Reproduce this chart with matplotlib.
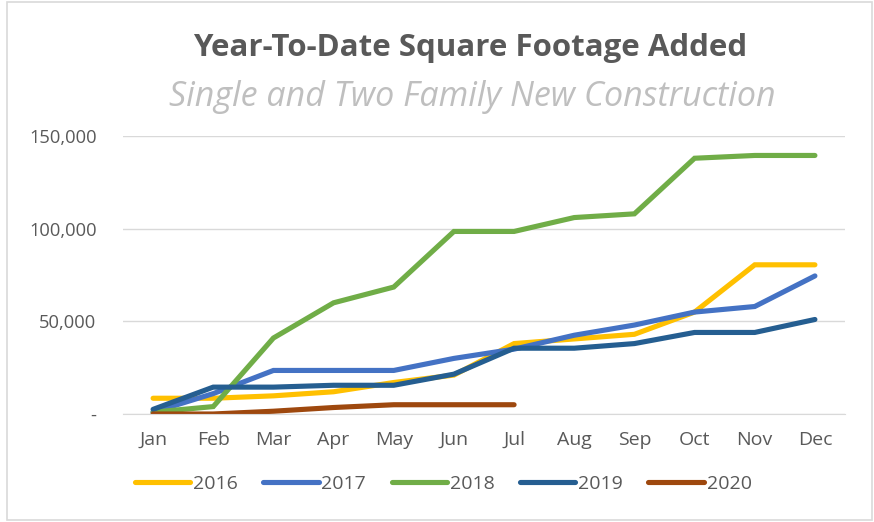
import matplotlib.pyplot as plt
from matplotlib.patches import Rectangle

months = ['Jan', 'Feb', 'Mar', 'Apr', 'May', 'Jun', 'Jul', 'Aug', 'Sep', 'Oct', 'Nov', 'Dec']
y2016 = [8500, 8500, 9800, 12000, 17000, 21000, 38000, 40500, 43000, 55000, 80500, 80500]
y2017 = [1000, 11000, 23500, 23500, 23500, 30000, 35000, 42500, 48000, 55000, 58000, 74500]
y2018 = [1000, 4000, 41000, 60000, 68500, 98500, 98500, 106000, 108000, 138000, 139500, 139500]
y2019 = [2500, 14500, 14500, 15500, 15500, 21500, 35500, 35500, 38000, 44000, 44000, 51000]
y2020 = [0, 0, 1500, 3500, 5000, 5000, 5000]

series = [('2016', y2016, '#FFC000'), ('2017', y2017, '#4472C4'),
          ('2018', y2018, '#70AD47'), ('2019', y2019, '#255E91'),
          ('2020', y2020, '#9E480E')]

plt.rcParams['font.family'] = ['Open Sans', 'DejaVu Sans']

fig = plt.figure(figsize=(8.74, 5.22), dpi=100)
fig.patches.append(Rectangle((0.008, 0.004), 0.99, 0.992, transform=fig.transFigure,
                             fill=False, edgecolor='#D9D9D9', linewidth=1.2))
ax = fig.add_axes([123 / 874, 1 - 414 / 522, (845 - 123) / 874, (414 - 136) / 522])

for name, vals, col in series:
    ax.plot(range(len(vals)), vals, color=col, linewidth=3.7, label=name,
            solid_capstyle='round', solid_joinstyle='miter')

ax.set_xlim(-0.5, 11.5)
ax.set_ylim(0, 150000)
ax.set_yticks([0, 50000, 100000, 150000])
ax.set_yticklabels(['-', '50,000', '100,000', '150,000'])
ax.set_xticks(range(12))
ax.set_xticklabels(months)
ax.grid(axis='y', color='#D9D9D9', linewidth=1)
ax.set_axisbelow(True)
for s in ['top', 'right', 'left']:
    ax.spines[s].set_visible(False)
ax.spines['bottom'].set_color('#D9D9D9')
ax.tick_params(axis='x', length=0, labelsize=14, colors='#595959', pad=12)
ax.tick_params(axis='y', length=0, labelsize=13.2, colors='#595959', pad=19)

fig.text(0.538, 1 - 48 / 522, 'Year-To-Date Square Footage Added', ha='center', va='center',
         fontsize=22.5, fontweight='bold', color='#595959')
fig.text(0.54, 1 - 97 / 522, 'Single and Two Family New Construction', ha='center', va='center',
         fontsize=24.5, fontstyle='italic', color='#BFBFBF')

fig.legend(loc='center', bbox_to_anchor=(0.507, 1 - 484 / 522), ncol=5, frameon=False,
           fontsize=14, labelcolor='#595959', handlelength=2.85, handletextpad=0.15,
           columnspacing=1.3)

fig.savefig('out.png', dpi=100)
